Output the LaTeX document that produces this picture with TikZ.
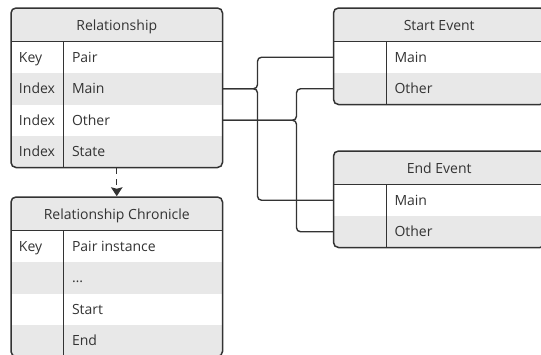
\documentclass[tikz,border=0pt]{standalone}
\usepackage{fontspec}
\setmainfont{Open Sans}
\usetikzlibrary{arrows.meta}
\definecolor{ink}{HTML}{333333}
\definecolor{band}{HTML}{E8E8E8}

\tikzset{
  txt/.style={inner sep=0pt, text=ink, font=\fontsize{14}{16}\selectfont},
  headtxt/.style={txt, anchor=base},
  celltxt/.style={txt, anchor=base west},
  rowbox/.style={rectangle, inner sep=0pt, minimum width=211.5pt, minimum height=31.5pt},
  frame/.style={rectangle, draw=ink, line width=1.5pt, rounded corners=5pt, inner sep=0pt, minimum width=211.5pt},
  rule/.style={draw=ink, line width=1.5pt},
  wire/.style={draw=ink, line width=1.4pt, rounded corners=4pt},
  derive/.style={draw=ink, line width=1.4pt, dash pattern=on 6pt off 5pt,
    -{Stealth[length=9pt, width=11.5pt, inset=1.5pt]}},
  keycol/.style={xshift=8pt, yshift=-5.2pt},
  fieldcol/.style={xshift=61pt, yshift=-5.2pt},
}

\begin{document}
\begin{tikzpicture}[x=1pt, y=-1pt]
\useasboundingbox (0,0) rectangle (541,354);
\clip (0,0) rectangle (541,354);

% ---------- Relationship ----------
\begin{scope}
  \clip[rounded corners=5pt] (11,8) rectangle (222.5,167.5);
  \fill[band] (11,8) rectangle (222.5,41.5);
  \fill[band] (11,73) rectangle (222.5,104.5);
  \fill[band] (11,136) rectangle (222.5,167.5);
\end{scope}
\node[frame, minimum height=159.5pt] (rel) at (116.75,87.75) {};
\node[rowbox] (rel-r1) at (116.75,57.25) {};
\node[rowbox] (rel-r2) at (116.75,88.75) {};
\node[rowbox] (rel-r3) at (116.75,120.25) {};
\node[rowbox] (rel-r4) at (116.75,151.75) {};
\draw[rule] (11,41.5) -- (222.5,41.5);
\draw[rule] (63.5,41.5) -- (63.5,167.5);
\node[headtxt] at (116.75,30) {Relationship};
\node[celltxt] at ([keycol]rel-r1.west) {Key};
\node[celltxt] at ([keycol]rel-r2.west) {Index};
\node[celltxt] at ([keycol]rel-r3.west) {Index};
\node[celltxt] at ([keycol]rel-r4.west) {Index};
\node[celltxt] at ([fieldcol]rel-r1.west) {Pair};
\node[celltxt] at ([fieldcol]rel-r2.west) {Main};
\node[celltxt] at ([fieldcol]rel-r3.west) {Other};
\node[celltxt] at ([fieldcol]rel-r4.west) {State};

% ---------- Start Event ----------
\begin{scope}
  \clip[rounded corners=5pt] (333.5,8) rectangle (545,104.5);
  \fill[band] (333.5,8) rectangle (545,41.5);
  \fill[band] (333.5,73) rectangle (545,104.5);
\end{scope}
\node[frame, minimum height=96.5pt] (se) at (439.25,56.25) {};
\node[rowbox] (se-r1) at (439.25,57.25) {};
\node[rowbox] (se-r2) at (439.25,88.75) {};
\draw[rule] (333.5,41.5) -- (545,41.5);
\draw[rule] (386.5,41.5) -- (386.5,104.5);
\node[headtxt] at (439.25,30) {Start Event};
\node[celltxt] at ([fieldcol]se-r1.west) {Main};
\node[celltxt] at ([fieldcol]se-r2.west) {Other};

% ---------- End Event ----------
\begin{scope}
  \clip[rounded corners=5pt] (333.5,151) rectangle (545,247.5);
  \fill[band] (333.5,151) rectangle (545,184.5);
  \fill[band] (333.5,216) rectangle (545,247.5);
\end{scope}
\node[frame, minimum height=96.5pt] (ee) at (439.25,199.25) {};
\node[rowbox] (ee-r1) at (439.25,200.25) {};
\node[rowbox] (ee-r2) at (439.25,231.75) {};
\draw[rule] (333.5,184.5) -- (545,184.5);
\draw[rule] (386.5,184.5) -- (386.5,247.5);
\node[headtxt] at (439.25,173) {End Event};
\node[celltxt] at ([fieldcol]ee-r1.west) {Main};
\node[celltxt] at ([fieldcol]ee-r2.west) {Other};

% ---------- Relationship Chronicle ----------
\begin{scope}
  \clip[rounded corners=5pt] (11,197) rectangle (222.5,356.5);
  \fill[band] (11,197) rectangle (222.5,230.5);
  \fill[band] (11,262) rectangle (222.5,293.5);
  \fill[band] (11,325) rectangle (222.5,356.5);
\end{scope}
\node[frame, minimum height=159.5pt] (chr) at (116.75,276.75) {};
\node[rowbox] (chr-r1) at (116.75,246.25) {};
\node[rowbox] (chr-r2) at (116.75,277.75) {};
\node[rowbox] (chr-r3) at (116.75,309.25) {};
\node[rowbox] (chr-r4) at (116.75,340.75) {};
\draw[rule] (11,230.5) -- (222.5,230.5);
\draw[rule] (63.5,230.5) -- (63.5,356.5);
\node[headtxt] at (116.75,219) {Relationship Chronicle};
\node[celltxt] at ([keycol]chr-r1.west) {Key};
\node[celltxt] at ([fieldcol]chr-r1.west) {Pair instance};
\node[celltxt] at ([fieldcol]chr-r2.west) {\dots};
\node[celltxt] at ([fieldcol]chr-r3.west) {Start};
\node[celltxt] at ([fieldcol]chr-r4.west) {End};

% ---------- connectors ----------
\coordinate (busA) at (257.5,0);
\coordinate (busB) at (296.5,0);
\draw[wire] (rel-r2.east) -- (rel-r2.east -| busA) |- (se-r1.west);
\draw[wire] (rel-r2.east) -- (rel-r2.east -| busA) |- (ee-r1.west);
\draw[wire] (rel-r3.east) -- (rel-r3.east -| busB) |- (se-r2.west);
\draw[wire] (rel-r3.east) -- (rel-r3.east -| busB) |- (ee-r2.west);
\draw[derive] (rel.south) -- (chr.north);
\end{tikzpicture}
\end{document}
